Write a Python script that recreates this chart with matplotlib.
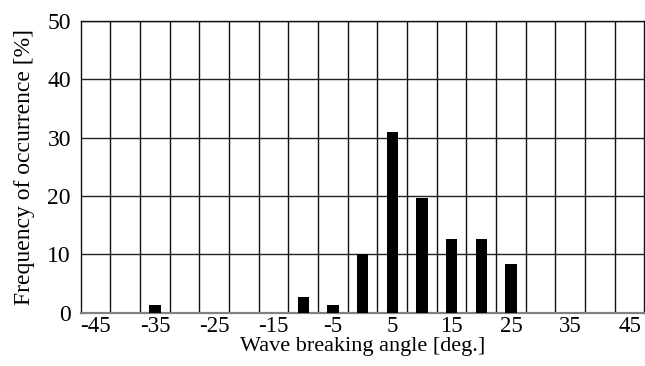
import matplotlib
matplotlib.use("Agg")
import matplotlib.pyplot as plt
import numpy as np

categories = [-45, -40, -35, -30, -25, -20, -15, -10, -5, 0, 5, 10, 15, 20, 25, 30, 35, 40, 45]
values = [0, 0, 1.3, 0, 0, 0, 0, 2.7, 1.3, 10.0, 31.0, 19.6, 12.6, 12.6, 8.4, 0, 0, 0, 0]
yticks = [0, 10, 20, 30, 40, 50]

plt.rcParams['font.family'] = ['Liberation Serif', 'DejaVu Serif']

fig = plt.figure(figsize=(6.45, 3.66), dpi=100)
ax = fig.add_axes([80.7/645, (366-312.7)/366, (644.5-80.7)/645, (312.7-20.7)/366])

x = np.arange(len(categories))
ax.bar(x, values, width=0.38, color='black', zorder=3)

ax.set_xlim(-0.5, len(categories)-0.5)
ax.set_ylim(0, 50)

major = x[::2]
ax.set_xticks(major)
ax.set_xticklabels([str(c) for c in categories[::2]], fontsize=16.5)
ax.set_xticks(x[:-1] + 0.5, minor=True)
ax.set_yticks(yticks)
ax.set_yticklabels([str(v) for v in yticks], fontsize=17)
ax.tick_params(axis='both', which='both', length=0)
ax.tick_params(axis='x', pad=2.5)
ax.tick_params(axis='y', pad=7)

ax.grid(True, axis='x', which='minor', color='#111111', linewidth=1.0, zorder=1)
ax.grid(True, axis='y', which='major', color='#222222', linewidth=1.0, zorder=1)

for s in ['left', 'top', 'right']:
    ax.spines[s].set_color('#111111')
    ax.spines[s].set_linewidth(1.0)
ax.spines['bottom'].set_color('#808080')
ax.spines['bottom'].set_linewidth(1.6)

ax.set_xlabel('Wave breaking angle [deg.]', fontsize=16, labelpad=0)
ax.set_ylabel('Frequency of occurrence [%]', fontsize=17, labelpad=9)

fig.savefig('out.png', dpi=100)
